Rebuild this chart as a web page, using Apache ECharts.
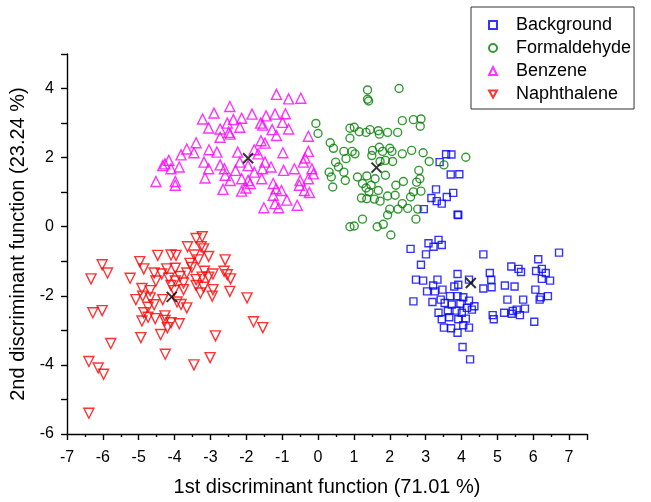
<!DOCTYPE html>
<html style="height: 100%">
   <head>
       <meta charset="utf-8">
   </head>
   <body style="height: 100%; margin: 0">
       <div id="container" style="height: 100%"></div>
       <script type="text/javascript" src="https://cdn.jsdelivr.net/npm/echarts@6/dist/echarts.min.js"></script>
       <script type="text/javascript">
// values, [x, y] per sample
var background = [
  [3.57,2.10],[3.72,2.09],[3.39,1.87],[3.70,1.51],[3.94,1.52],[3.29,1.08],[3.16,0.83],[3.31,0.74],
  [3.45,0.67],[3.59,0.86],[3.77,0.98],[2.95,0.51],[3.89,0.35],[3.91,0.34],[2.58,-0.64],[3.08,-0.48],
  [3.36,-0.38],[3.45,-0.53],[3.22,-0.58],[3.01,-0.80],[4.61,-0.80],[6.72,-0.75],[6.14,-0.94],[2.87,-1.10],
  [5.39,-1.15],[5.59,-1.22],[5.66,-1.31],[6.08,-1.28],[6.24,-1.22],[6.35,-1.34],[6.24,-1.51],[6.47,-1.56],
  [3.89,-1.37],[4.21,-1.53],[4.79,-1.34],[4.83,-1.53],[2.73,-1.53],[2.93,-1.56],[3.33,-1.53],[3.21,-1.70],
  [3.47,-1.82],[3.80,-1.73],[3.91,-1.68],[3.04,-1.87],[4.61,-1.79],[4.84,-1.75],[5.21,-1.70],[5.48,-1.73],
  [6.06,-1.82],[6.18,-2.11],[6.21,-2.04],[6.41,-2.01],[3.26,-1.87],[3.42,-2.11],[3.68,-2.01],[3.89,-2.01],
  [4.05,-2.04],[4.21,-2.14],[4.36,-2.30],[5.28,-2.11],[5.72,-2.11],[2.66,-2.16],[3.19,-2.18],[3.53,-2.21],
  [3.73,-2.25],[3.97,-2.23],[4.15,-2.35],[4.29,-2.40],[3.36,-2.49],[3.62,-2.44],[3.86,-2.43],[4.01,-2.49],
  [3.45,-2.68],[3.66,-2.62],[3.91,-2.68],[4.12,-2.66],[4.87,-2.56],[4.90,-2.68],[5.19,-2.49],[5.43,-2.44],
  [5.54,-2.40],[5.77,-2.37],[5.63,-2.56],[6.03,-2.75],[3.51,-2.92],[3.71,-2.94],[3.89,-3.07],[4.05,-2.85],
  [4.21,-2.92],[4.03,-3.48],[4.24,-3.84],[5.40,-2.52]
];
var formaldehyde = [
  [1.38,3.96],[2.26,4.00],[1.38,3.69],[1.41,3.64],[-0.06,2.99],[0.00,2.70],[2.35,3.07],[2.66,3.10],
  [2.87,3.12],[2.85,2.91],[0.89,2.85],[1.01,2.88],[1.15,2.75],[0.89,2.56],[1.34,2.73],[1.45,2.81],
  [1.68,2.78],[1.71,2.68],[1.94,2.73],[2.22,2.73],[0.34,2.43],[0.43,2.27],[0.72,2.18],[0.95,2.18],
  [1.03,2.11],[1.52,2.21],[1.71,2.30],[2.00,2.27],[2.06,2.18],[1.80,2.18],[1.50,2.06],[2.35,2.11],
  [2.61,2.21],[2.93,2.14],[3.10,1.89],[4.12,2.01],[3.51,1.79],[0.49,1.87],[0.78,1.97],[0.57,1.73],
  [0.31,1.58],[0.37,1.44],[0.41,1.15],[0.72,1.58],[0.76,1.34],[1.10,1.44],[1.36,1.47],[1.59,1.39],
  [1.88,1.49],[1.73,1.89],[1.88,1.92],[2.08,1.89],[1.24,1.25],[1.34,1.12],[1.48,1.20],[1.68,1.05],
  [2.17,1.20],[2.38,1.31],[2.75,1.29],[2.84,1.39],[2.81,1.63],[1.21,0.83],[1.36,0.81],[1.57,0.80],
  [1.73,0.74],[1.94,0.89],[2.15,0.91],[2.58,0.86],[2.66,1.01],[2.87,1.03],[2.00,0.51],[2.23,0.51],
  [2.50,0.53],[2.78,0.51],[2.35,0.67],[1.94,0.34],[2.73,0.22],[1.24,0.22],[0.89,0.00],[1.01,0.02],
  [1.65,0.00],[1.82,0.07],[2.03,-0.24],[1.42,1.01]
];
var benzene = [
  [-1.16,3.83],[-0.82,3.70],[-0.48,3.72],[-2.46,3.48],[-2.90,3.29],[-3.22,3.12],[-1.84,3.26],[-1.45,3.21],
  [-1.20,3.26],[-0.91,3.27],[-2.13,3.14],[-2.36,3.10],[-2.53,3.00],[-1.60,3.00],[-0.99,3.02],[-3.05,2.86],
  [-2.73,2.83],[-2.18,2.88],[-1.54,2.94],[-1.28,2.81],[-0.82,2.83],[-2.49,2.73],[-2.45,2.68],[-2.73,2.59],
  [-1.16,2.64],[-0.27,2.62],[-1.59,2.49],[-1.48,2.42],[-3.40,2.43],[-3.66,2.25],[-3.46,2.14],[-3.82,2.08],
  [-3.04,2.23],[-2.82,2.16],[-2.24,2.16],[-1.78,2.23],[-1.67,2.11],[-0.98,2.14],[-0.27,2.18],[-4.16,1.92],
  [-4.27,1.82],[-4.33,1.77],[-4.10,1.68],[-3.87,1.73],[-3.18,1.87],[-3.05,1.68],[-2.73,1.79],[-2.61,1.68],
  [-2.30,1.63],[-1.95,1.77],[-1.55,1.68],[-1.48,1.87],[-1.31,1.73],[-0.96,1.63],[-0.66,1.68],[-0.41,1.87],
  [-0.36,1.99],[-0.17,1.68],[-0.13,1.53],[-4.52,1.31],[-3.98,1.31],[-3.98,1.20],[-3.15,1.41],[-2.59,1.49],
  [-2.45,1.34],[-2.13,1.39],[-1.95,1.34],[-2.01,1.12],[-1.57,1.39],[-1.25,1.25],[-1.17,1.10],[-1.02,1.05],
  [-0.50,1.34],[-0.27,1.39],[-0.52,1.20],[-0.38,1.05],[-0.24,0.99],[-2.65,1.08],[-2.13,1.03],[-1.25,0.91],
  [-0.87,0.77],[-1.20,0.67],[-1.10,0.55],[-1.51,0.55],[-0.58,0.62],[-1.89,1.25],[-1.78,1.58],[-2.18,1.87]
];
var naphthalene = [
  [-3.23,-0.29],[-3.40,-0.34],[-3.64,-0.58],[-3.26,-0.58],[-3.19,-0.64],[-3.45,-0.82],[-4.47,-0.83],[-4.10,-0.82],
  [-3.96,-0.83],[-3.05,-0.86],[-2.59,-0.96],[-4.97,-1.01],[-6.02,-1.10],[-5.87,-1.34],[-6.33,-1.51],[-5.24,-1.49],
  [-4.86,-1.22],[-4.57,-1.34],[-4.36,-1.37],[-4.22,-1.22],[-3.98,-1.20],[-3.66,-1.34],[-3.52,-1.18],[-3.17,-1.29],
  [-2.93,-1.37],[-2.62,-1.29],[-2.53,-1.39],[-2.44,-1.51],[-4.52,-1.57],[-4.16,-1.49],[-3.98,-1.57],[-3.85,-1.44],
  [-3.75,-1.63],[-3.40,-1.53],[-3.23,-1.46],[-3.05,-1.46],[-3.40,-1.70],[-3.19,-1.75],[-2.93,-1.82],[-2.46,-1.87],
  [-1.98,-2.06],[-4.91,-1.79],[-4.68,-1.85],[-4.10,-1.70],[-4.01,-1.85],[-3.75,-1.82],[-5.08,-2.11],[-4.89,-2.01],
  [-4.68,-2.06],[-4.33,-2.11],[-3.93,-2.18],[-3.82,-2.25],[-3.66,-2.35],[-3.28,-1.92],[-2.95,-2.01],[-4.74,-2.33],
  [-4.57,-2.26],[-4.86,-2.49],[-4.74,-2.62],[-4.91,-2.73],[-4.54,-2.66],[-4.27,-2.71],[-4.10,-2.78],[-3.87,-2.81],
  [-4.20,-2.92],[-4.39,-3.12],[-4.94,-3.21],[-6.28,-2.49],[-6.02,-2.43],[-5.78,-3.38],[-6.39,-3.90],[-6.13,-4.09],
  [-5.98,-4.27],[-6.39,-5.40],[-4.26,-3.69],[-3.46,-4.00],[-3.01,-3.79],[-2.86,-3.16],[-1.80,-2.75],[-1.54,-2.92],
  [-4.27,-2.58],[-3.57,-1.06],[-3.34,-0.96]
];
// group centroids (black crosses)
var centroids = [[4.26,-1.63],[1.63,1.71],[-1.95,1.98],[-4.08,-2.03]];

var names = ['Background', 'Formaldehyde', 'Benzene', 'Naphthalene'];
var colors = ['#0000ff', '#008000', '#ff00ff', '#ff0000'];

var dom = document.getElementById("container");
var myChart = echarts.init(dom);
var font = 'Liberation Sans';
var downTriangle = 'path://M0,0L10,0L5,9Z';

function group(i, data, symbol, size) {
    return {
        name: names[i],
        type: 'scatter',
        data: data,
        symbol: symbol,
        symbolSize: size,
        itemStyle: {
            color: 'rgba(0,0,0,0)',
            borderColor: colors[i],
            borderWidth: 1.4
        },
        emphasis: { disabled: true }
    };
}

var option = {
    animation: false,
    backgroundColor: '#fff',
    grid: { left: 67, right: 64, top: 54, bottom: 65 },
    legend: {
        orient: 'vertical',
        left: 471,
        top: 7,
        padding: [9, 3, 6, 17],
        itemWidth: 8,
        itemHeight: 8,
        itemGap: 5,
        borderColor: '#333',
        borderWidth: 1,
        data: names,
        textStyle: { fontFamily: font, fontSize: 18, color: '#000', lineHeight: 18, padding: [0, 0, 0, 14] }
    },
    xAxis: {
        type: 'value',
        min: -7,
        max: 7.5,
        interval: 1,
        name: '1st discriminant function (71.01 %)',
        nameLocation: 'middle',
        nameGap: 43,
        nameTextStyle: { fontFamily: font, fontSize: 20, color: '#000' },
        axisLine: { onZero: false, lineStyle: { color: '#000', width: 1.4 } },
        axisTick: { length: 6, lineStyle: { color: '#000', width: 1.4 } },
        minorTick: { show: true, splitNumber: 2, length: 3, lineStyle: { color: '#000', width: 1.4 } },
        axisLabel: {
            fontFamily: font, fontSize: 16, color: '#000', margin: 16,
            formatter: function (v) { return Number.isInteger(v) ? String(v) : ''; }
        },
        splitLine: { show: false }
    },
    yAxis: {
        type: 'value',
        min: -6,
        max: 5,
        interval: 1,
        name: '2nd discriminant function (23.24 %)',
        nameLocation: 'middle',
        nameGap: 38,
        nameTextStyle: { fontFamily: font, fontSize: 20, color: '#000' },
        axisLine: { onZero: false, lineStyle: { color: '#000', width: 1.4 } },
        axisTick: { length: 6, lineStyle: { color: '#000', width: 1.4 } },
        axisLabel: {
            fontFamily: font, fontSize: 16, color: '#000', margin: 13,
            formatter: function (v) { return v % 2 === 0 ? String(v) : ''; }
        },
        splitLine: { show: false }
    },
    series: [
        group(0, background, 'rect', 7),
        group(1, formaldehyde, 'circle', 8),
        group(2, benzene, 'triangle', 10),
        group(3, naphthalene, downTriangle, 10),
        {
            type: 'scatter',
            data: centroids,
            symbol: 'path://M0,0L10,10M10,0L0,10',
            symbolSize: 10,
            itemStyle: { color: 'none', borderColor: '#000', borderWidth: 2 },
            z: 5,
            emphasis: { disabled: true }
        }
    ]
};

if (option && typeof option === "object") {
    myChart.setOption(option, true);
}
       </script>
   </body>
</html>
